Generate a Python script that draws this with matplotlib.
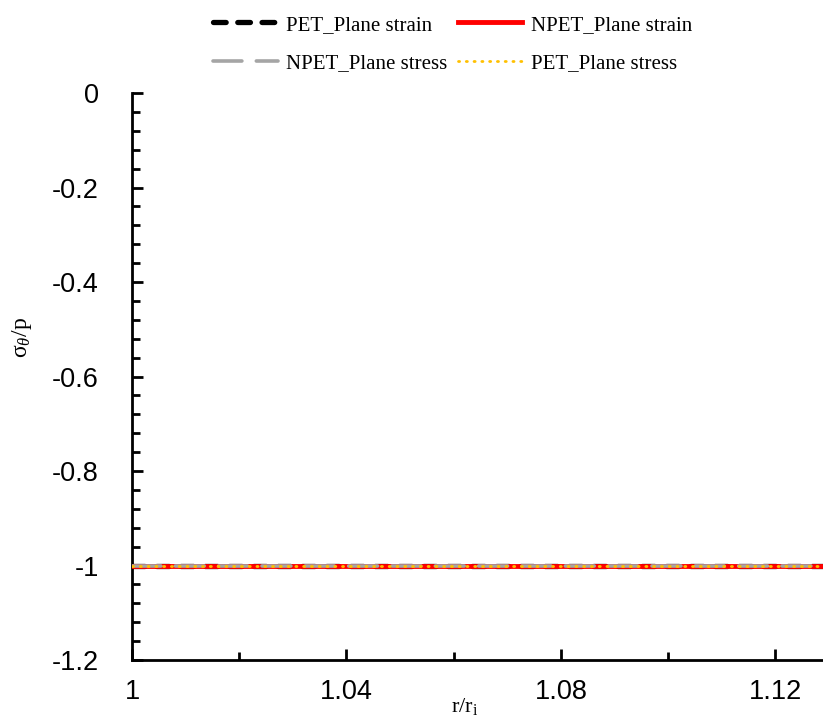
import matplotlib.pyplot as plt
from matplotlib.ticker import MultipleLocator
import numpy as np

plt.rcParams['mathtext.fontset'] = 'custom'
plt.rcParams['mathtext.rm'] = 'Liberation Serif'
plt.rcParams['mathtext.it'] = 'Liberation Serif:italic'

# normalised radius and hoop stress for the four cases
r_ratio = [1.0, 1.03, 1.06, 1.09, 1.12, 1.15]
pet_strain = [-1.0, -1.0, -1.0, -1.0, -1.0, -1.0]
npet_strain = [-1.0, -1.0, -1.0, -1.0, -1.0, -1.0]
npet_stress = [-1.0, -1.0, -1.0, -1.0, -1.0, -1.0]
pet_stress = [-1.0, -1.0, -1.0, -1.0, -1.0, -1.0]

fig = plt.figure(figsize=(8.23, 7.2), dpi=100)
ax = fig.add_axes([0.1604, 0.0833, 0.8396, 0.7875])

l1, = ax.plot(r_ratio, pet_strain, color="black", lw=3.8, ls=(0, (2.4, 2.2)),
              dash_capstyle="round", zorder=2)
l2, = ax.plot(r_ratio, npet_strain, color="red", lw=3.5, ls="-", zorder=3)
l3, = ax.plot(r_ratio, npet_stress, color="#a5a5a5", lw=2.6, ls=(0, (8, 4)),
              dash_capstyle="round", zorder=4)
l4, = ax.plot(r_ratio, pet_stress, color="#ffc000", lw=2.0, ls=(0, (0.4, 2.4)),
              dash_capstyle="round", zorder=5)

ax.set_xlim(1.0, 1.1289)
ax.set_ylim(-1.2, 0)
ax.xaxis.set_major_locator(MultipleLocator(0.04))
ax.xaxis.set_minor_locator(MultipleLocator(0.02))
ax.yaxis.set_major_locator(MultipleLocator(0.2))
ax.yaxis.set_minor_locator(MultipleLocator(0.04))
ax.xaxis.set_major_formatter(lambda v, p: f"{v:g}")
ax.yaxis.set_major_formatter(lambda v, p: f"{v:g}")

for s in ["top", "right"]:
    ax.spines[s].set_visible(False)
for s in ["left", "bottom"]:
    ax.spines[s].set_linewidth(2)

ax.tick_params(which="major", direction="in", length=8, width=2,
               labelsize=19.5, labelfontfamily="Liberation Sans")
ax.tick_params(axis="y", which="major", pad=24)
ax.tick_params(axis="x", which="major", pad=14)
ax.tick_params(which="minor", direction="in", length=6, width=2)

ax.set_ylabel(r"$\mathregular{\sigma}_{\theta}\mathregular{/p}$", fontsize=17,
              family="Liberation Serif")
ax.yaxis.set_label_coords(-0.142, 0.568)
ax.set_xlabel(r"r/r$_\mathregular{i}$", fontsize=16, family="Liberation Serif")
ax.xaxis.set_label_coords(0.482, -0.063)

fig.legend([l1, l3, l2, l4],
           ["PET_Plane strain", "NPET_Plane stress", "NPET_Plane strain", "PET_Plane stress"],
           ncol=2, loc="upper center", bbox_to_anchor=(0.55, 1.005), frameon=False,
           prop={"family": "Liberation Serif", "size": 15},
           handlelength=3.1, handletextpad=0.4, columnspacing=0.5, labelspacing=0.9)

fig.savefig("out.png", dpi=100)
